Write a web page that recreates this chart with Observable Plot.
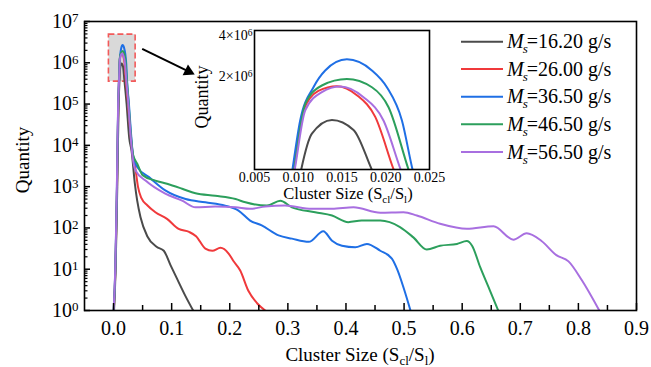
<!DOCTYPE html>
<html><head><meta charset="utf-8">
<script src="https://cdn.jsdelivr.net/npm/d3@7"></script>
<script src="https://cdn.jsdelivr.net/npm/@observablehq/plot@0.6"></script>
<style>
body{margin:0;background:#fff;}
#wrap{position:relative;width:651px;height:367px;}
#wrap svg{position:absolute;left:0;top:0;overflow:visible;}
#wrap svg text{font-family:"Liberation Serif","Times New Roman",serif;}
</style></head><body><div id="wrap"></div>
<script>
// ---- data ----
const seriesNames = ["16.20", "26.00", "36.50", "46.50", "56.50"];
const seriesColors = ["#4b4b4b", "#f0393b", "#1f6fe5", "#2c9f5c", "#a86fe0"];

const size16 = [0.0008,0.0035,0.005,0.0064,0.0075,0.0088,0.01034,0.01156,0.01385,0.01632,0.0184,0.0225,0.027,0.031,0.0367,0.0407,0.0464,0.058,0.074,0.0865,0.098,0.11,0.124,0.137];
const qty16  = [1,10,100,1000,1e4,1e5,4.14e5,7.6e5,9.6e5,8.1e5,4.14e5,1e5,1.5e4,7400,1170,457,182,63,35,28,12.6,5.6,2.2,1];

const size26 = [0.0005,0.0032,0.0047,0.006,0.007,0.0082,0.0095,0.0106,0.0123,0.01442,0.0167,0.0188,0.0209,0.025,0.029,0.033,0.038,0.042,0.048,0.058,0.072,0.092,0.112,0.13,0.142,0.158,0.17,0.184,0.198,0.206,0.218,0.232,0.247,0.261];
const qty26  = [1,10,100,1000,1e4,1e5,4.14e5,1.13e6,1.57e6,1.70e6,1.46e6,1.01e6,4.14e5,1e5,2e4,6000,2500,1000,525,355,240,166,95,80,63,31.6,28,33,24,16,9.3,3.0,1.5,1];

const size36 = [0.0003,0.003,0.0045,0.0058,0.0068,0.008,0.00934,0.01022,0.01174,0.01308,0.01556,0.01842,0.02013,0.02185,0.02306,0.0265,0.030,0.034,0.041,0.061,0.089,0.124,0.158,0.192,0.215,0.235,0.255,0.284,0.307,0.336,0.361,0.376,0.393,0.416,0.436,0.459,0.479,0.488,0.499,0.511];
const qty36  = [1,10,100,1000,1e4,1e5,4.14e5,9.5e5,1.67e6,2.22e6,2.68e6,2.22e6,1.67e6,9.5e5,4.14e5,1e5,2e4,5000,2950,1700,810,500,417,347,263,151,115,66,55,46,83,49,37,34,41,28,18,10,3.6,1];

const size46 = [0.0004,0.0031,0.0046,0.0059,0.0069,0.0081,0.00954,0.0108,0.0127,0.01556,0.01842,0.02032,0.0226,0.026,0.0295,0.0335,0.041,0.05,0.072,0.092,0.118,0.141,0.175,0.21,0.227,0.264,0.287,0.307,0.347,0.376,0.404,0.427,0.459,0.493,0.516,0.539,0.562,0.591,0.608,0.617,0.631,0.648,0.662];
const qty46  = [1,10,100,1000,1e4,1e5,4.14e5,1.26e6,1.72e6,1.92e6,1.67e6,1.19e6,4.14e5,1e5,2e4,6000,3550,1900,1400,1170,890,690,600,500,417,347,457,316,240,200,138,151,151,105,59,30,37,41,48,37,11.2,3.0,1];

const size56 = [0.0002,0.0029,0.0044,0.0057,0.0067,0.0079,0.0096,0.0108,0.0127,0.0148,0.01746,0.01974,0.0217,0.0255,0.029,0.033,0.038,0.055,0.089,0.118,0.141,0.175,0.21,0.235,0.261,0.295,0.341,0.376,0.413,0.459,0.499,0.522,0.562,0.608,0.654,0.688,0.711,0.736,0.762,0.783,0.806,0.836];
const qty56  = [1,10,100,1000,1e4,1e5,4.14e5,1.13e6,1.54e6,1.69e6,1.41e6,9.5e5,4.14e5,1e5,2e4,5000,2450,1400,676,457,316,330,316,290,330,347,290,290,316,234,240,200,126,95,110,52,74,49,22,15.5,5.4,1];

const xMajorTicks = [0,0.1,0.2,0.3,0.4,0.5,0.6,0.7,0.8,0.9];
const xMinorTicks = [0.05,0.15,0.25,0.35,0.45,0.55,0.65,0.75,0.85];
const yMajorTicks = [1,1e1,1e2,1e3,1e4,1e5,1e6,1e7];
const yMinorTicks = [];
for (const p of [1,10,100,1e3,1e4,1e5,1e6]) for (const m of [2,3,4,5,6,7,8,9]) yMinorTicks.push(m*p);
const insetXTicks = [0.005,0.010,0.015,0.020,0.025];
const insetYTicks = [2e6, 4e6];

// zoom box and arrow annotation (data coordinates)
const zoomBoxX = [-0.008, 0.038];
const zoomBoxY = [3.5e5, 4.8e6];
const arrowFrom = [0.0493, 2.18e6];
const arrowHead = [0.1289, 6.2e5];

// ---- build table ----
const sizes = [size16, size26, size36, size46, size56];
const qtys = [qty16, qty26, qty36, qty46, qty56];
const rows = [];
seriesNames.forEach((s, i) => sizes[i].forEach((x, j) => rows.push({s, x, q: qtys[i][j]})));

const font = "Liberation Serif, Times New Roman, serif";
const colorScale = {domain: seriesNames, range: seriesColors};

const main = Plot.plot({
  width: 651, height: 367,
  marginLeft: 84, marginRight: 15, marginTop: 21, marginBottom: 57,
  style: {fontFamily: font, fontSize: "20px", background: "white", color: "black"},
  x: {domain: [-0.05, 0.9]},
  y: {type: "log", domain: [1, 1e7]},
  color: colorScale,
  marks: [
    Plot.rect([{x1: zoomBoxX[0], x2: zoomBoxX[1], y1: zoomBoxY[0], y2: zoomBoxY[1]}],
      {x1: "x1", x2: "x2", y1: "y1", y2: "y2", fill: "#d9d9d9", stroke: "#f25a5a", strokeWidth: 1.6, strokeDasharray: "6,3"}),
    Plot.line(rows, {x: "x", y: "q", z: "s", stroke: "s", strokeWidth: 2, curve: "monotone-x", clip: true}),
    Plot.link([{x1: arrowFrom[0], y1: arrowFrom[1], x2: arrowHead[0], y2: arrowHead[1]}],
      {x1: "x1", y1: "y1", x2: "x2", y2: "y2", stroke: "black", strokeWidth: 2}),
    Plot.dot([{x: arrowHead[0], y: arrowHead[1]}], {x: "x", y: "y", symbol: "triangle", r: 4.5, fill: "black", stroke: "none", rotate: 116}),
    Plot.axisX(xMajorTicks, {tickSize: 0, tickPadding: 10, tickFormat: d3.format(".1f"), label: null, fontFamily: font, fontSize: 20}),
    Plot.axisX(xMajorTicks, {tickSize: -7, tickFormat: () => "", label: null, strokeWidth: 1.5}),
    Plot.axisX(xMinorTicks, {tickSize: -5, tickFormat: () => "", label: null, strokeWidth: 1.5}),
    Plot.axisY(yMajorTicks, {tickSize: 0, tickPadding: 6, tickFormat: d => "10^" + Math.round(Math.log10(d)), label: null, fontFamily: font, fontSize: 20}),
    Plot.axisY(yMajorTicks, {tickSize: -6, tickFormat: () => "", label: null, strokeWidth: 1.5}),
    Plot.axisY(yMinorTicks, {tickSize: -3.5, tickFormat: () => "", label: null, strokeWidth: 1.2}),
    Plot.frame({stroke: "black", strokeWidth: 1.6})
  ]
});

const inset = Plot.plot({
  width: 275, height: 195,
  marginLeft: 69, marginRight: 31, marginTop: 12, marginBottom: 44,
  style: {fontFamily: font, fontSize: "14px", background: "none", color: "black"},
  x: {domain: [0.005, 0.025]},
  y: {type: "log", domain: [4.14e5, 4.37e6]},
  color: colorScale,
  marks: [
    Plot.line(rows, {x: "x", y: "q", z: "s", stroke: "s", strokeWidth: 2, curve: "monotone-x", clip: true}),
    Plot.axisX(insetXTicks, {tickSize: 0, tickPadding: 3, tickFormat: d3.format(".3f"), label: null, fontFamily: font, fontSize: 14}),
    Plot.axisY(insetYTicks, {tickSize: 0, tickPadding: 2, tickFormat: d => (d / 1e6) + "×10^6", label: null, fontFamily: font, fontSize: 14}),
    Plot.frame({stroke: "black", strokeWidth: 1.6})
  ]
});
inset.style.left = "185px";
inset.style.top = "18px";
inset.style.background = "none";

function supify(svg, supSize, dy) {
  d3.select(svg).selectAll('g[aria-label="y-axis tick label"] text').each(function () {
    const t = this.textContent; const i = t.indexOf("^");
    if (i < 0) return;
    const sel = d3.select(this); sel.text(null);
    sel.append("tspan").text(t.slice(0, i));
    sel.append("tspan").attr("font-size", supSize).attr("dy", dy).text(t.slice(i + 1));
  });
}
supify(main, "13px", "-0.42em");
supify(inset, "9.5px", "-0.45em");

function subLabel(g, parts, subSize, shift) {
  parts.forEach(([txt, isSub], k) => {
    const prevSub = k > 0 && parts[k - 1][1];
    const ts = g.append("tspan").text(txt);
    if (isSub) ts.attr("font-size", subSize).attr("dy", shift);
    else if (prevSub) ts.attr("dy", -shift);
  });
}
const labelParts = [["Cluster Size (S", false], ["cl", true], ["/S", false], ["l", true], [")", false]];

const ms = d3.select(main);
const xl = ms.append("text").attr("x", 360).attr("y", 361).attr("text-anchor", "middle")
  .attr("font-family", font).attr("font-size", "19px").attr("fill", "black");
subLabel(xl, labelParts, "13px", 4);
ms.append("text").attr("transform", "translate(29,160) rotate(-90)").attr("text-anchor", "middle")
  .attr("font-family", font).attr("font-size", "19px").attr("fill", "black").text("Quantity");

// legend
const legY = [41.7, 69, 96.7, 124.3, 152];
const leg = ms.append("g").attr("font-family", font).attr("font-size", "20px").attr("text-anchor", "start");
seriesNames.forEach((s, i) => {
  leg.append("line").attr("x1", 461).attr("x2", 503).attr("y1", legY[i]).attr("y2", legY[i])
    .attr("stroke", seriesColors[i]).attr("stroke-width", 2);
  const t = leg.append("text").attr("x", 507).attr("y", legY[i] + 6.5).attr("fill", "black").attr("text-anchor", "start");
  t.append("tspan").attr("font-style", "italic").text("M");
  t.append("tspan").attr("font-style", "italic").attr("font-size", "13px").attr("dy", 5).attr("dx", -1).text("s");
  t.append("tspan").attr("dy", -5).attr("dx", -1).text("=" + s + " g/s");
});

const is = d3.select(inset);
const ixl = is.append("text").attr("x", 163).attr("y", 181).attr("text-anchor", "middle")
  .attr("font-family", font).attr("font-size", "16.5px").attr("fill", "black");
subLabel(ixl, labelParts, "11px", 3.5);
is.append("text").attr("transform", "translate(23,79) rotate(-90)").attr("text-anchor", "middle")
  .attr("font-family", font).attr("font-size", "18px").attr("fill", "black").text("Quantity");

const wrap = document.getElementById("wrap");
wrap.appendChild(main);
wrap.appendChild(inset);
</script>
</body></html>
